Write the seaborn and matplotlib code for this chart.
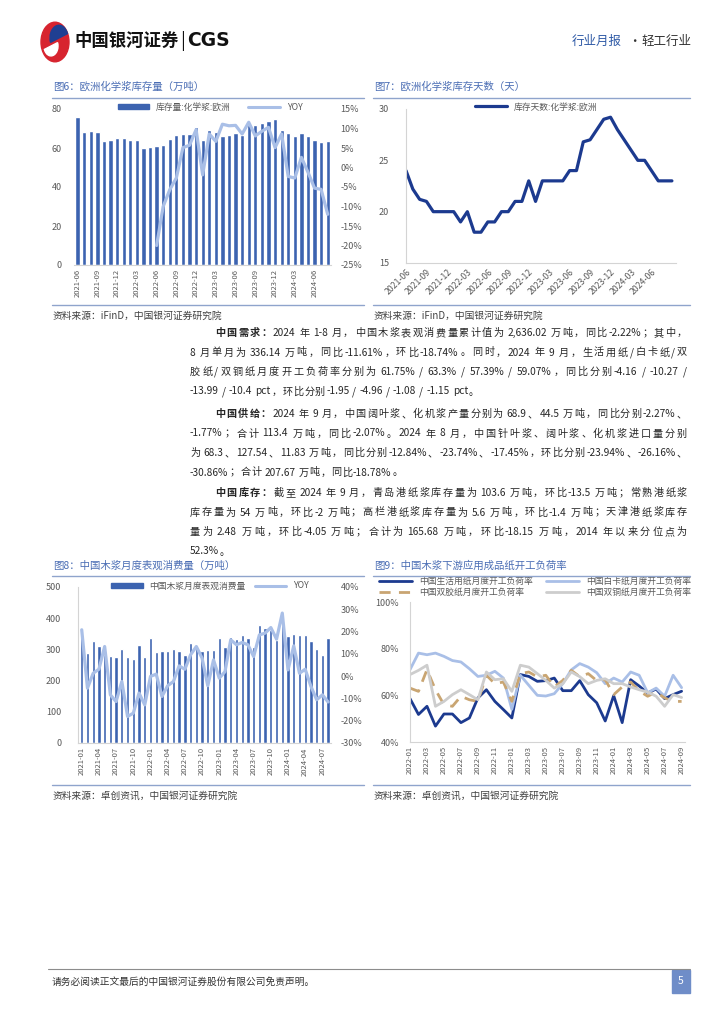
import numpy as np
import pandas as pd
import seaborn as sns
import matplotlib.pyplot as plt
from matplotlib.font_manager import FontProperties
from matplotlib.lines import Line2D
from matplotlib.patches import Patch, Rectangle, Circle, Wedge
from matplotlib.ticker import FuncFormatter

sns.set_theme(style='white')
FAM = ['Noto Sans CJK SC', 'DejaVu Sans']
plt.rcParams['font.family'] = FAM
plt.rcParams['axes.unicode_minus'] = False

# ---- data ----
months1 = pd.period_range('2021-06', periods=39, freq='M').strftime('%Y-%m').tolist()
stock1 = [76, 68, 68.5, 68, 63.7, 64, 65.2, 65, 64, 64, 60, 60.3, 61, 61.3, 64.5, 66.6, 67, 67, 71, 64,
          69, 68, 66.3, 66.6, 67.5, 66.6, 72, 71.7, 72.8, 74, 74.8, 69, 67.8, 66.4, 67.8, 66.3, 64, 63, 63.5]
yoy1_start = 12
yoy1 = [-20, -10, -5.7, -2.7, 5.1, 5.7, 9.7, -1.9, 8.6, 6.7, 11.1, 10.7, 10.8, 8.6, 11.6, 8.1, 9.3, 10.3,
        5.1, 8.6, -2.3, -2.7, 2.6, -1.2, -5.3, -5.6, -12]

months2 = pd.period_range('2021-06', periods=40, freq='M').strftime('%Y-%m').tolist()
days2 = [24, 22.2, 21.2, 21, 20, 20, 20, 20, 19, 20, 18, 18, 19, 19, 20, 20, 21, 21, 23, 21,
         23, 23, 23, 23, 24, 24, 26.8, 27, 28, 29, 29.2, 28, 27, 26, 25, 25, 24, 23, 23, 23]

months3 = pd.period_range('2021-01', periods=44, freq='M').strftime('%Y-%m').tolist()
cons3 = [336, 288, 328, 311, 283, 280, 277, 300, 276, 268, 315, 276, 335, 292, 295, 296, 300, 296, 283, 320,
         305, 294, 299, 298, 335, 308, 340, 333, 345, 336, 307, 379, 369, 362, 330, 385, 344, 350, 347, 345,
         328, 301, 283, 336]
yoy3 = [20.8, -5.4, 1.3, 3.1, 13.3, -8.4, -11.4, -2.4, -18.1, -16.6, -7.6, -12.9, -0.1, 0.9, -9.1, -4.3,
        -2.4, 4.6, 3.1, 9.6, 13.3, 8.1, -4.3, 7.3, -0.9, 2.0, 16.3, 14.1, 15.1, 14.1, 8.8, 18.5, 19.3, 21.8,
        16.6, 28.3, 2.8, 13.6, 1.3, 3.1, -4.6, -10.6, -8.4, -11.6]

months4 = pd.period_range('2022-01', periods=33, freq='M').strftime('%Y-%m').tolist()
life4 = [58.6, 51.8, 55.3, 46.8, 52, 52, 48.3, 50.3, 58.9, 62.4, 57.4, 53.9, 50.3, 68.9, 68.1, 66, 66.3,
         67.4, 62, 62, 66.3, 60.3, 56.8, 49, 59.9, 48.3, 66.7, 64, 61, 62.7, 58.6, 60.3, 61.75]
ivory4 = [71, 78.1, 77.4, 78.1, 76.7, 74.9, 74.3, 71.4, 68.1, 68.6, 70.3, 67.4, 54, 68.6, 64.3, 60, 59.7,
          60.7, 65, 70.9, 73.6, 72.1, 69.7, 65, 67.4, 65.7, 70, 68.6, 61.1, 63.1, 59.6, 68.6, 63.3]
offset4 = [63.1, 61.7, 71, 62.4, 56, 55.3, 59.6, 58.1, 57.4, 68.6, 65, 65.7, 57.4, 69.3, 70, 67.9, 68.6,
           63.6, 66.4, 70.7, 68, 69.3, 66.3, 66.7, 60.3, 63.6, 65.7, 61.9, 59.6, 61.4, 58.9, 57.4, 57.39]
coated4 = [68.9, 70.7, 72.9, 55.3, 57.4, 60.3, 62.4, 60.3, 58.1, 70, 66.7, 67.1, 61.7, 72.9, 72.1, 69.3,
           66.4, 63.1, 65, 70, 68, 65, 66.4, 67.1, 65, 65, 63.6, 62.4, 61.4, 59.6, 55.3, 60.3, 59.07]
labels4 = ['中国生活用纸月度开工负荷率', '中国白卡纸月度开工负荷率', '中国双胶纸月度开工负荷率', '中国双铜纸月度开工负荷率']

BAR = '#3c63b0'
YOYC = '#a9bfe7'
NAVY = '#1c3a8f'
TAN = '#c9a572'
GRAY = '#cdcdcd'
TITLE = '#4a6db4'
RULE = '#8fa4cc'
TICK = '#595959'
TXT = '#262626'

W, H = 724, 1024
fig = plt.figure(figsize=(W / 100, H / 100), dpi=100)


def px_axes(x0, y0, x1, y1):
    return fig.add_axes([x0 / W, 1 - y1 / H, (x1 - x0) / W, (y1 - y0) / H])


def ftext(x, y, s, **kw):
    kw.setdefault('va', 'center')
    return fig.text(x / W, 1 - y / H, s, **kw)


def hline(x0, x1, y, color=RULE, lw=1.0):
    fig.add_artist(Line2D([x0 / W, x1 / W], [1 - y / H, 1 - y / H], color=color, lw=lw))


def style(ax, spines=('bottom',), pad=6):
    for s in ['top', 'right', 'left', 'bottom']:
        ax.spines[s].set_visible(s in spines)
        ax.spines[s].set_color('#d4d4d4')
        ax.spines[s].set_linewidth(0.8)
    ax.tick_params(labelsize=6.5, colors=TICK, length=0, pad=pad)
    ax.grid(False)
    ax.set_xlabel('')
    ax.set_ylabel('')


pct = FuncFormatter(lambda v, p: f'{v:.0f}%')

# ---- header ----
fig.add_artist(Circle((55 / W, 1 - 42 / H), 14 / W, transform=fig.transFigure, color='#d7242f'))
fig.add_artist(Wedge((59 / W, 1 - 38 / H), 9 / W, 20, 200, transform=fig.transFigure, color='#1f3f92'))
fig.add_artist(Wedge((51 / W, 1 - 46 / H), 7 / W, 200, 380, transform=fig.transFigure, color='white'))
ftext(74, 41, '中国银河证券', fontsize=12.5, fontweight='bold', color='#111111')
ftext(180, 41, '|', fontsize=13, color='#111111')
ftext(187, 41, 'CGS', fontsize=13.5, fontweight='bold', color='#111111', family='DejaVu Sans')
ftext(572, 41, '行业月报', fontsize=9, color='#2f5aa6')
ftext(628, 41, '·', fontsize=9, color='#333333')
ftext(641, 41, '轻工行业', fontsize=9, color='#333333')

# ---- titles, rules, sources ----
for x0, x1, t, ty, y_top, y_bot, src in [
        (52, 364, '图6：欧洲化学浆库存量（万吨）', 87, 98, 305, '资料来源：iFinD，中国银河证券研究院'),
        (373, 690, '图7：欧洲化学浆库存天数（天）', 87, 98, 305, '资料来源：iFinD，中国银河证券研究院'),
        (52, 364, '图8：中国木浆月度表观消费量（万吨）', 566, 576, 785, '资料来源：卓创资讯，中国银河证券研究院'),
        (373, 690, '图9：中国木浆下游应用成品纸开工负荷率', 566, 576, 785, '资料来源：卓创资讯，中国银河证券研究院')]:
    ftext(x0 + 1, ty, t, fontsize=7.5, color=TITLE)
    hline(x0, x1, y_top)
    hline(x0, x1, y_bot)
    ftext(x0 + 1, y_bot + 11, src, fontsize=7, color='#404040')

# ---- chart 1 ----
ax1 = px_axes(74, 109, 331, 265)
sns.barplot(x=months1, y=stock1, color=BAR, saturation=1, width=0.65, ax=ax1)
ax1b = ax1.twinx()
sns.lineplot(x=np.arange(yoy1_start, yoy1_start + len(yoy1)), y=yoy1, color=YOYC, lw=2.3, ax=ax1b)
ax1.set_ylim(0, 80)
ax1.set_yticks(range(0, 81, 20))
ax1b.set_ylim(-25, 15)
ax1b.set_yticks(range(-25, 16, 5))
ax1b.yaxis.set_major_formatter(pct)
ax1.set_xticks(range(0, 39, 3))
ax1.set_xticklabels(months1[::3], rotation=90)
ax1.set_xlim(-0.55, 38.5)
style(ax1, pad=9)
style(ax1b, spines=(), pad=7)
ax1.tick_params(axis='x', labelsize=5.5, pad=3)
ax1.legend([Patch(color=BAR), Line2D([], [], color=YOYC, lw=2.2)], ['库存量:化学浆:欧洲', 'YOY'],
           loc='center', bbox_to_anchor=(210 / W, 1 - 107 / H), bbox_transform=fig.transFigure,
           ncol=2, frameon=False, fontsize=6.3, handlelength=3.6, handleheight=0.6, columnspacing=2.0,
           labelcolor=TICK)

# ---- chart 2 ----
ax2 = px_axes(406, 109, 676, 263)
sns.lineplot(x=np.arange(len(days2)), y=days2, color=NAVY, lw=2.3, ax=ax2)
ax2.set_ylim(15, 30)
ax2.set_yticks([15, 20, 25, 30])
ax2.set_xlim(0, 39.6)
ax2.set_xticks(range(0, 37, 3))
ax2.set_xticklabels(months2[0:37:3], rotation=45, ha='right', rotation_mode='anchor')
style(ax2, spines=('left', 'bottom'), pad=12)
ax2.tick_params(axis='x', labelsize=6.3, pad=3)
ax2.legend([Line2D([], [], color=NAVY, lw=2.3)], ['库存天数:化学浆:欧洲'],
           loc='center', bbox_to_anchor=(536 / W, 1 - 107 / H), bbox_transform=fig.transFigure,
           frameon=False, fontsize=6.3, handlelength=3.6, labelcolor=TICK)

# ---- body text (justified, CJK per char, latin runs kept whole) ----
renderer = fig.canvas.get_renderer()
_wcache = {}


def adv(tok, bold, size):
    key = (tok, bold, size)
    if key not in _wcache:
        fp = FontProperties(family=FAM, size=size, weight='bold' if bold else 'normal')
        w2, _, _ = renderer.get_text_width_height_descent('中' + tok + '中', fp, ismath=False)
        w1, _, _ = renderer.get_text_width_height_descent('中中', fp, ismath=False)
        _wcache[key] = w2 - w1
    return _wcache[key]


def tokens(segs):
    out = []
    for s, bold in segs:
        buf = ''
        for ch in s:
            if ord(ch) < 128 and ch != ' ':
                buf += ch
            else:
                if buf:
                    out.append((buf, bold))
                    buf = ''
                out.append((ch, bold))
        if buf:
            out.append((buf, bold))
    return out


def text_line(y, segs, x0, x1=687, size=7.3, justify=True):
    items = [(t, b, adv(t, b, size)) for t, b in tokens(segs)]
    total = sum(w for _, _, w in items)
    # a space and its neighbours share one stretch slot
    slots = [0 if items[i][0] == ' ' else 1 for i in range(len(items) - 1)]
    n = max(sum(slots), 1)
    gap = (x1 - x0 - total) / n if justify else 0.8
    x = x0
    for i, (tok, bold, w) in enumerate(items):
        if tok != ' ':
            ftext(x, y, tok, fontsize=size, fontweight='bold' if bold else 'normal', color=TXT, ha='left')
        x += w
        if i < len(slots):
            x += gap * slots[i]


paras = [
    (333, '中国需求：', ['2024 年 1-8 月，中国木浆表观消费量累计值为 2,636.02 万吨，同比-2.22%；其中，',
                      '8 月单月为 336.14 万吨，同比-11.61%，环比-18.74%。同时，2024 年 9 月，生活用纸/白卡纸/双',
                      '胶纸/双铜纸月度开工负荷率分别为 61.75% / 63.3% / 57.39% / 59.07%，同比分别-4.16 / -10.27 /',
                      '-13.99 / -10.4 pct，环比分别-1.95 / -4.96 / -1.08 / -1.15 pct。']),
    (414, '中国供给：', ['2024 年 9 月，中国阔叶浆、化机浆产量分别为 68.9、44.5 万吨，同比分别-2.27%、',
                      '-1.77%；合计 113.4 万吨，同比-2.07%。2024 年 8 月，中国针叶浆、阔叶浆、化机浆进口量分别',
                      '为 68.3、127.54、11.83 万吨，同比分别-12.84%、-23.74%、-17.45%，环比分别-23.94%、-26.16%、',
                      '-30.86%；合计 207.67 万吨，同比-18.78%。']),
    (493, '中国库存：', ['截至 2024 年 9 月，青岛港纸浆库存量为 103.6 万吨，环比-13.5 万吨；常熟港纸浆',
                      '库存量为 54 万吨，环比-2 万吨；高栏港纸浆库存量为 5.6 万吨，环比-1.4 万吨；天津港纸浆库存',
                      '量为 2.48 万吨，环比-4.05 万吨；合计为 165.68 万吨，环比-18.15 万吨，2014 年以来分位点为',
                      '52.3%。'])]
for y0, head, lines in paras:
    for i, ln in enumerate(lines):
        y = y0 + i * 19.5
        last = i == len(lines) - 1
        if i == 0:
            text_line(y, [(head, True), (ln, False)], 215)
        else:
            text_line(y, [(ln, False)], 190, justify=not last)

# ---- chart 3 ----
ax3 = px_axes(78, 587, 331, 743)
sns.barplot(x=months3, y=cons3, color=BAR, saturation=1, width=0.58, ax=ax3)
ax3b = ax3.twinx()
sns.lineplot(x=np.arange(len(yoy3)), y=yoy3, color=YOYC, lw=2.3, ax=ax3b)
ax3.set_ylim(0, 500)
ax3.set_yticks(range(0, 501, 100))
ax3b.set_ylim(-30, 40)
ax3b.set_yticks(range(-30, 41, 10))
ax3b.yaxis.set_major_formatter(pct)
ax3.set_xticks(range(0, 44, 3))
ax3.set_xticklabels(months3[::3], rotation=90)
ax3.set_xlim(-0.65, 43.5)
style(ax3, spines=('left', 'bottom'), pad=12)
style(ax3b, spines=(), pad=7)
ax3.tick_params(axis='x', labelsize=5.5, pad=3)
ax3.legend([Patch(color=BAR), Line2D([], [], color=YOYC, lw=2.2)], ['中国木浆月度表观消费量', 'YOY'],
           loc='center', bbox_to_anchor=(210 / W, 1 - 586 / H), bbox_transform=fig.transFigure,
           ncol=2, frameon=False, fontsize=6.3, handlelength=3.6, handleheight=0.6, columnspacing=1.0,
           labelcolor=TICK)

# ---- chart 4 ----
ax4 = px_axes(410, 602, 685, 742)
xs4 = np.arange(len(months4))
sns.lineplot(x=xs4, y=life4, color=NAVY, lw=2.0, ax=ax4)
sns.lineplot(x=xs4, y=ivory4, color=YOYC, lw=2.0, ax=ax4)
sns.lineplot(x=xs4, y=offset4, color=TAN, lw=2.0, ax=ax4, linestyle=(0, (4, 3)))
sns.lineplot(x=xs4, y=coated4, color=GRAY, lw=2.0, ax=ax4)
ax4.set_ylim(40, 100)
ax4.set_yticks([40, 60, 80, 100])
ax4.yaxis.set_major_formatter(pct)
ax4.set_xlim(0, 32.4)
ax4.set_xticks(range(0, 33, 2))
ax4.set_xticklabels(months4[::2], rotation=90)
style(ax4, spines=('left', 'bottom'), pad=8)
ax4.tick_params(axis='x', labelsize=5.5, pad=3)
h = [Line2D([], [], color=NAVY, lw=2.0), Line2D([], [], color=TAN, lw=2.0, ls=(0, (4, 3))),
     Line2D([], [], color=YOYC, lw=2.0), Line2D([], [], color=GRAY, lw=2.0)]
ax4.legend(h, [labels4[0], labels4[2], labels4[1], labels4[3]], loc='center',
           bbox_to_anchor=(535 / W, 1 - 587 / H), bbox_transform=fig.transFigure, ncol=2,
           frameon=False, fontsize=6.3, handlelength=3.8, columnspacing=1.5, labelspacing=0.25,
           labelcolor=TICK)

# ---- footer ----
hline(48, 690, 969, color='#8c8c8c', lw=0.8)
ftext(52, 982, '请务必阅读正文最后的中国银河证券股份有限公司免责声明。', fontsize=7, color='#333333')
fig.add_artist(Rectangle((672 / W, 1 - 993 / H), 18 / W, 23 / H, transform=fig.transFigure,
                         color='#6f8dc8'))
ftext(681, 981.5, '5', fontsize=7.5, color='white', ha='center')

fig.savefig('out.png', dpi=100)
